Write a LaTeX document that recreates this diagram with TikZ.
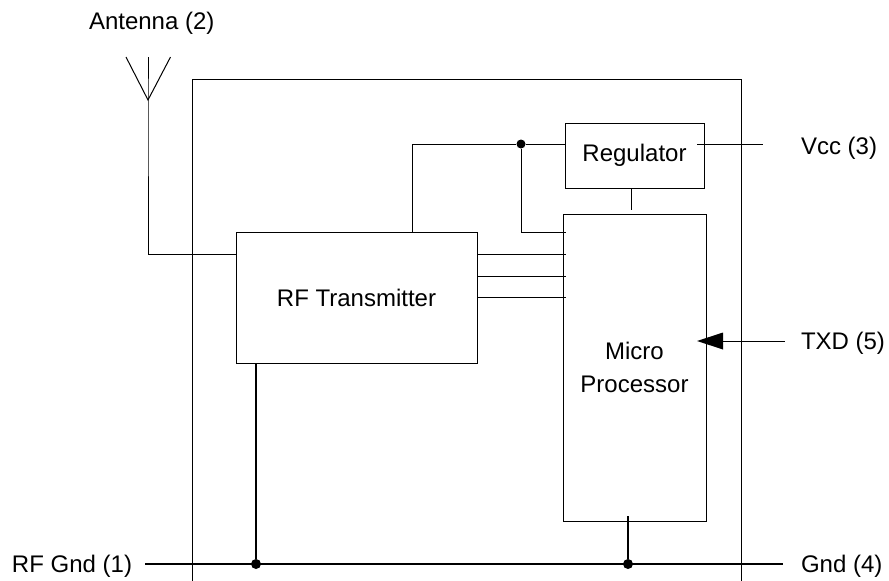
\documentclass[tikz,border=0pt]{standalone}
\usepackage{fontspec}
\setmainfont{Liberation Sans}
\begin{document}
\begin{tikzpicture}[x=1pt,y=-1pt,
  thin line/.style={line width=1pt,black},
  bus/.style={line width=2.2pt,black},
  block/.style={draw,line width=1pt,black,inner sep=0pt,outer sep=0pt,align=center,font=\fontsize{24}{33}\selectfont},
  label/.style={inner sep=0pt,outer sep=0pt,font=\fontsize{24}{28}\selectfont,anchor=west},
  thindot/.style={circle,fill=black,inner sep=0pt,minimum size=9pt},
  busdot/.style={circle,fill=black,inner sep=0pt,minimum size=10pt}]
\useasboundingbox (0,0) rectangle (889,581);
% named free ends
\coordinate (frameBL) at (192,581);
\coordinate (frameTL) at (192,79);
\coordinate (frameTR) at (741,79);
\coordinate (frameBR) at (741,581);
\coordinate (antApex) at (148,100);
\coordinate (antTop) at (148,57);
\coordinate (antL) at (126,57);
\coordinate (antR) at (170.5,57);
\coordinate (antCorner) at (148,254);
% frame
\draw[thin line] (frameBL) -- (frameTL) -- (frameTR) -- (frameBR);
% blocks
\node[block,minimum width=241pt,minimum height=131pt] (rf) at (356.5,297.5) {RF Transmitter};
\node[block,minimum width=139pt,minimum height=65pt] (reg) at (634.5,155.5) {Regulator};
\node[block,minimum width=143pt,minimum height=307pt] (mcu) at (634.5,367.5) {Micro\\Processor};
% antenna
\draw[thin line] (antL) -- (antApex) -- (antR);
\draw[thin line] (antTop) -- (antApex) -- (antCorner) -- (rf.west |- antCorner);
% supply
\node[thindot] (junc) at (521,144) {};
\coordinate (rfTap) at (412,232);
\coordinate (rfTapTop) at (412,144);
\draw[thin line] (rfTap) -- (rfTapTop) -- (junc) -- (reg.west |- junc);
\coordinate (juncDown) at (521,232);
\coordinate (mcuPin1) at (566,232);
\draw[thin line] (junc) -- (juncDown) -- (mcuPin1);
% data lines
\foreach \n/\y in {a/254,b/276,c/297.5}{
  \coordinate (rfp\n) at (477,\y);
  \coordinate (mcup\n) at (566,\y);
  \draw[thin line] (rfp\n) -- (mcup\n);
}
% regulator to micro
\coordinate (regStub) at (631,188);
\coordinate (mcuStub) at (631,210);
\draw[thin line] (regStub) -- (mcuStub);
% Vcc
\node[label] (vcc) at (801,148) {Vcc (3)};
\coordinate (vccIn) at (697,144);
\coordinate (vccOut) at (763,144);
\draw[thin line] (vccIn) -- (vccOut);
% TXD
\node[label] (txd) at (801,343) {TXD (5)};
\coordinate (txdTip) at (697,341);
\coordinate (txdBase) at (723,341);
\coordinate (txdOut) at (785,341);
\draw[thin line] (txdBase) -- (txdOut);
\fill[black] (txdTip) -- ([yshift=-8.5pt]txdBase) -- ([yshift=8.5pt]txdBase) -- cycle;
% ground
\node[label] (rfgnd) at (12,566) {RF Gnd (1)};
\node[label] (gnd) at (801,566) {Gnd (4)};
\coordinate (busL) at (145,564);
\coordinate (busR) at (783,564);
\draw[bus] (busL) -- (busR);
\node[busdot] (g1) at (256,564) {};
\node[busdot] (g2) at (628,564) {};
\coordinate (g1Top) at (256,363);
\coordinate (g2Top) at (628,516);
\draw[bus] (g1Top) -- (g1);
\draw[bus] (g2Top) -- (g2);
% antenna label
\node[label] (ant) at (89,23) {Antenna (2)};
\end{tikzpicture}
\end{document}
